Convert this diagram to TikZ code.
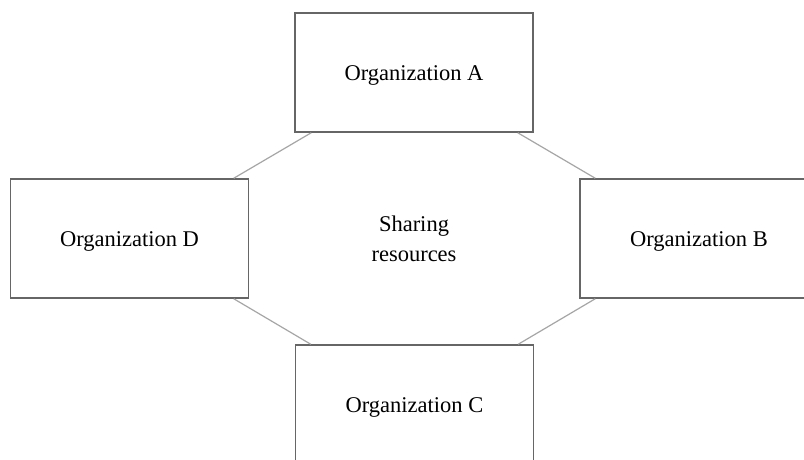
\documentclass[tikz,border=0pt]{standalone}
\usepackage{fontspec}
\setmainfont{Liberation Serif}
\begin{document}
\begin{tikzpicture}[x=1pt,y=-1pt,
  orgbox/.style={draw=black!60, line width=1.5pt, fill=white, rectangle,
    minimum width=238pt, minimum height=119pt, inner sep=0pt,
    text height=15pt, text depth=0pt,
    font=\fontsize{22.5}{26}\selectfont},
  link/.style={draw=black!35, line width=1.2pt},
  hub/.style={align=center, inner sep=0pt, font=\fontsize{22.5}{30}\selectfont}]
  \useasboundingbox (0,0) rectangle (804,459);
  \clip (0,0) rectangle (804,459);
  \fill[white] (0,0) rectangle (804,459);

  % four partner organisations around the shared hub
  \node[orgbox] (A) at (414,72.5)  {Organization A};
  \node[orgbox] (D) at (129.5,238.5) {Organization D};
  \node[orgbox] (B) at (699,238.5) {Organization B};
  \node[orgbox] (C) at (414.5,404.5) {Organization C};

  \node[hub] (S) at (414,239) {Sharing\\resources};

  % octagon edges joining neighbouring boxes
  \draw[link] ([xshift=17pt]A.south west) -- ([xshift=-15.5pt]D.north east);
  \draw[link] ([xshift=-16pt]A.south east) -- ([xshift=16pt]B.north west);
  \draw[link] ([xshift=-15.5pt]D.south east) -- ([xshift=16pt]C.north west);
  \draw[link] ([xshift=16pt]B.south west) -- ([xshift=-16pt]C.north east);
\end{tikzpicture}
\end{document}
